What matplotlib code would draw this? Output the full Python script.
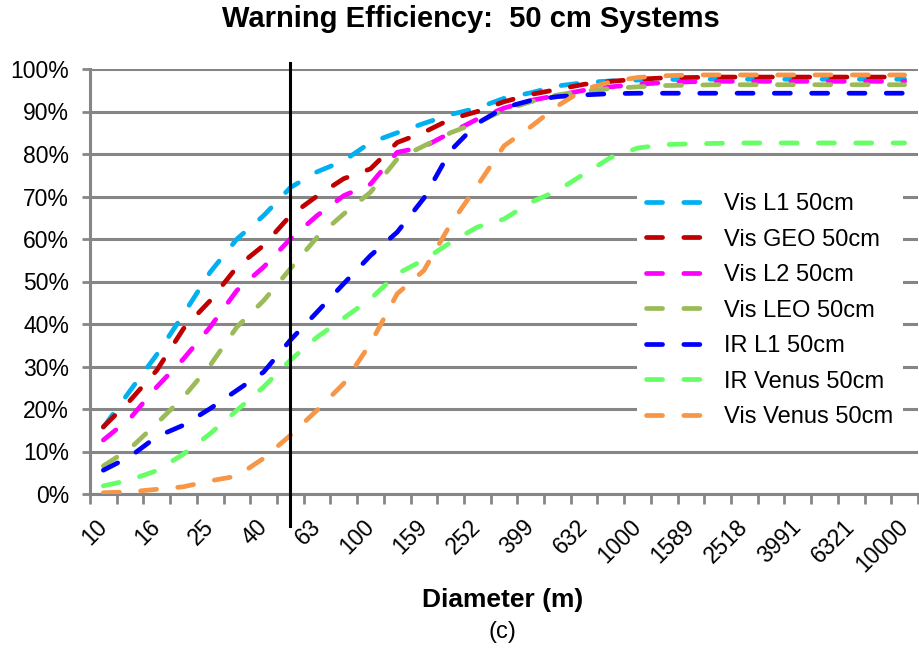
import numpy as np
import matplotlib
matplotlib.use('Agg')
import matplotlib.pyplot as plt
from matplotlib.ticker import FixedLocator, FuncFormatter

plt.rcParams['font.family'] = ['Liberation Sans', 'DejaVu Sans']

# diameter categories (31 log-spaced sizes), labelled every second one
tick_labels = ['10', '16', '25', '40', '63', '100', '159', '252', '399', '632',
               '1000', '1589', '2518', '3991', '6321', '10000']

vis_l1 = [15.7, 24.3, 32.8, 42.3, 52.2, 60.0, 65.5, 72.1, 75.8, 78.4, 82.7, 85.0, 87.2,
          89.3, 90.8, 93.1, 94.4, 96.0, 96.8, 97.2, 97.4, 97.5, 97.6, 97.6, 97.6, 97.6,
          97.6, 97.6, 97.6, 97.6, 97.6]
vis_geo = [15.8, 22.0, 29.1, 38.9, 45.5, 53.4, 58.5, 65.5, 70.1, 74.2, 76.5, 82.7, 85.1,
           88.2, 90.0, 92.3, 94.0, 95.2, 96.4, 97.1, 97.6, 97.9, 98.0, 98.1, 98.1, 98.1,
           98.1, 98.1, 98.1, 98.1, 98.1]
vis_l2 = [12.7, 17.8, 25.2, 31.8, 39.3, 47.9, 53.4, 60.0, 65.5, 70.2, 72.9, 80.4, 81.7,
          85.0, 88.2, 90.8, 92.6, 93.8, 95.0, 95.8, 96.4, 96.8, 97.0, 97.1, 97.1, 97.1,
          97.1, 97.1, 97.1, 97.1, 97.1]
vis_leo = [6.6, 10.7, 16.6, 22.8, 30.3, 39.3, 45.5, 53.0, 60.4, 65.9, 71.0, 78.8, 81.9,
           85.0, 87.4, 90.3, 92.3, 93.9, 94.8, 95.4, 95.8, 96.1, 96.2, 96.3, 96.3, 96.3,
           96.3, 96.3, 96.3, 96.3, 96.3]
ir_l1 = [5.6, 8.8, 13.5, 16.2, 20.1, 24.4, 28.7, 36.2, 42.8, 49.5, 56.1, 61.6, 69.6,
         80.8, 87.2, 90.9, 92.6, 93.5, 93.9, 94.2, 94.3, 94.3, 94.3, 94.3, 94.3, 94.3,
         94.3, 94.3, 94.3, 94.3, 94.3]
ir_venus = [1.9, 3.3, 5.5, 9.4, 14.2, 19.7, 25.2, 31.5, 36.9, 41.4, 45.9, 51.8, 55.1,
            59.2, 62.8, 64.7, 68.6, 71.4, 75.3, 79.2, 81.4, 82.2, 82.4, 82.5, 82.6, 82.6,
            82.6, 82.6, 82.6, 82.6, 82.6]
vis_venus = [0.3, 0.5, 1.1, 1.7, 3.1, 4.2, 8.4, 13.8, 19.7, 26.0, 35.4, 47.1, 52.6,
             63.5, 72.5, 81.9, 86.4, 91.3, 95.2, 97.0, 98.0, 98.4, 98.6, 98.6, 98.6, 98.6,
             98.6, 98.6, 98.6, 98.6, 98.6]

series = [vis_l1, vis_geo, vis_l2, vis_leo, ir_l1, ir_venus, vis_venus]
names = ['Vis L1 50cm', 'Vis GEO 50cm', 'Vis L2 50cm', 'Vis LEO 50cm',
         'IR L1 50cm', 'IR Venus 50cm', 'Vis Venus 50cm']
colors = ['#00B0F0', '#C00000', '#FF00FF', '#9BBB59', '#0000FF', '#66FF66', '#F79646']
marker_cat = 7  # the 50 m category

grid_gray = '#868686'

fig = plt.figure(figsize=(9.2, 6.48), dpi=100)
ax = fig.add_axes([90 / 920, 1 - 494 / 648, 828 / 920, 425 / 648])

x = np.arange(len(vis_l1))
for vals, name, c in zip(series, names, colors):
    ax.plot(x, vals, color=c, lw=3.4, dashes=(3.4, 4.5), dash_capstyle='round',
            label=name, zorder=3)

ax.set_xlim(-0.5, len(x) - 0.5)
ax.set_ylim(0, 100)

# y axis
ax.set_yticks(np.arange(0, 101, 10))
ax.yaxis.set_major_formatter(FuncFormatter(lambda v, p: '%d%%' % v))
ax.yaxis.grid(True, color=grid_gray, lw=2.2, zorder=1)
ax.set_axisbelow(True)
ax.tick_params(axis='y', length=6, width=2, color=grid_gray, labelsize=16.5, pad=9)

# x axis: boundaries as ticks, labels on every second category
ax.xaxis.set_minor_locator(FixedLocator(np.arange(-0.5, len(x), 1)))
ax.set_xticks(x[::2])
ax.set_xticklabels(tick_labels, rotation=45, ha='right', va='center',
                   rotation_mode='anchor')
ax.tick_params(axis='x', which='major', length=0, labelsize=16.5, pad=21)
ax.tick_params(axis='x', which='minor', length=7, width=2, color=grid_gray)

for s in ['top', 'right']:
    ax.spines[s].set_visible(False)
for s in ['left', 'bottom']:
    ax.spines[s].set_color(grid_gray)
    ax.spines[s].set_linewidth(2.2)

# 50 m marker line
ax.plot([marker_cat, marker_cat], [101.5, -7.5], color='black', lw=2.2,
        clip_on=False, zorder=4)

leg = ax.legend(loc='upper left', bbox_to_anchor=(625 / 920, 1 - 172 / 648),
                bbox_transform=fig.transFigure, frameon=True, fancybox=False,
                edgecolor='none', facecolor='white', framealpha=1,
                fontsize=17, handlelength=2.5, handletextpad=0.8,
                labelspacing=0.57, borderpad=0.4)
leg.set_zorder(5)

fig.text(471 / 920, 1 - 19 / 648, 'Warning Efficiency:  50 cm Systems',
         ha='center', va='center', fontsize=21, fontweight='bold')
fig.text(503 / 920, 1 - 600 / 648, 'Diameter (m)', ha='center', va='center',
         fontsize=19, fontweight='bold')
fig.text(502 / 920, 1 - 632 / 648, '(c)', ha='center', va='center', fontsize=17)

fig.savefig('out.png', dpi=100)
